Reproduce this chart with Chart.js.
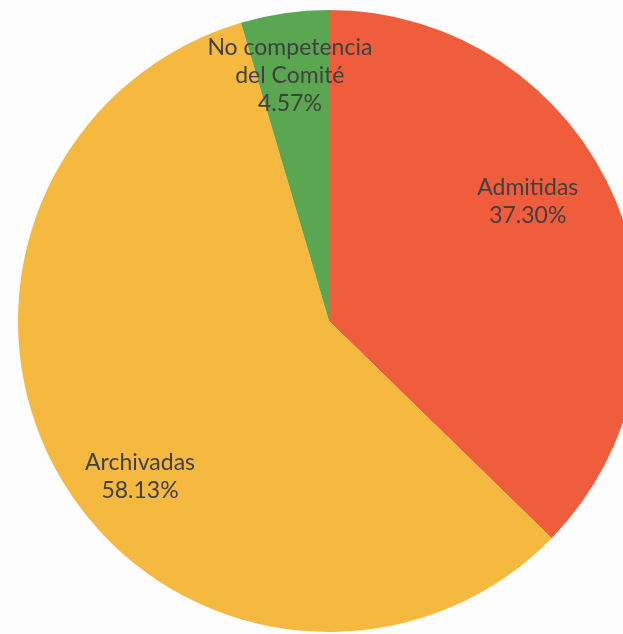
<!DOCTYPE html>
<html>
  <head>
    <meta charset="utf-8">
    <title>Quejas por resolución</title>
    <script src="https://cdn.jsdelivr.net/npm/chart.js"></script>
    <style>
      html, body { margin: 0; padding: 0; background: #fdfdfd; overflow: hidden; width: 623px; height: 634px; }
      #wrap { position: absolute; left: 18px; top: 10px; width: 622px; height: 622px; }
    </style>
  </head>
  <body>
    <div id="wrap"><canvas id="pie"></canvas></div>
    <script>
      // data
      const categories = ['Admitidas', 'Archivadas', 'No competencia del Comité'];
      const shares = [37.30, 58.13, 4.57];
      const colors = ['#EF5D3D', '#F5B940', '#5BA650'];
      // label lines as drawn in the source
      const labelLines = [['Admitidas'], ['Archivadas'], ['No competencia', 'del Comité']];

      // where each label sits inside its slice: fraction of sweep, fraction of radius
      const labelSpots = [[0.44, 0.745], [0.46, 0.787], [0.45, 0.80]];

      const sliceLabels = {
        id: 'sliceLabels',
        afterDatasetsDraw(chart) {
          const ctx = chart.ctx;
          const arcs = chart.getDatasetMeta(0).data;
          ctx.save();
          ctx.font = '23px Lato, "Noto Sans", sans-serif';
          ctx.fillStyle = '#404040';
          ctx.textAlign = 'center';
          ctx.textBaseline = 'middle';
          arcs.forEach((arc, i) => {
            const p = arc.getProps(['x', 'y', 'startAngle', 'endAngle', 'outerRadius']);
            const a = p.startAngle + (p.endAngle - p.startAngle) * labelSpots[i][0];
            const r = p.outerRadius * labelSpots[i][1];
            const lines = labelLines[i].concat([shares[i].toFixed(2) + '%']);
            const lh = 28;
            const cx = p.x + Math.cos(a) * r;
            const cy = p.y + Math.sin(a) * r - (lines.length - 1) * lh / 2;
            lines.forEach((t, k) => ctx.fillText(t, cx, cy + k * lh));
          });
          ctx.restore();
        }
      };

      new Chart(document.getElementById('pie'), {
        type: 'pie',
        data: {
          labels: categories,
          datasets: [{
            data: shares,
            backgroundColor: colors,
            borderWidth: 0
          }]
        },
        options: {
          responsive: true,
          maintainAspectRatio: false,
          animation: false,
          layout: { padding: 0 },
          plugins: {
            legend: { display: false },
            tooltip: { enabled: false }
          }
        },
        plugins: [sliceLabels]
      });
    </script>
  </body>
</html>
